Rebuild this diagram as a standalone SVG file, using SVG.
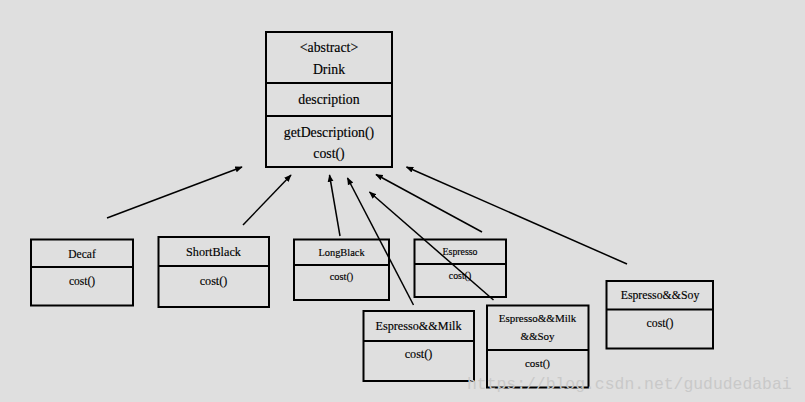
<svg xmlns="http://www.w3.org/2000/svg" width="805" height="402" viewBox="0 0 805 402">
<style>
.box{fill:none;stroke:#000;stroke-width:2}
.div{stroke:#000;stroke-width:2}
text.t{font-family:'Liberation Serif','Times New Roman',Times,serif;fill:#000;stroke:#000;stroke-width:0.15;text-anchor:middle}
.c{stroke:#000;stroke-width:1.5;fill:none;marker-end:url(#ah)}
.wm{font-family:'Liberation Mono','DejaVu Sans Mono',monospace;font-size:16.4px;fill:#c9c9c9}
</style>
<defs>
<marker id="ah" viewBox="0 0 10 10" refX="9" refY="5" markerWidth="5" markerHeight="5" orient="auto" markerUnits="strokeWidth">
<path d="M0,1 L10,5 L0,9 z" fill="#000"/>
</marker>
</defs>
<rect width="805" height="402" fill="#dfdfdf"/>
<g id="connectors">
<line class="c" x1="107" y1="218" x2="242" y2="167"/>
<line class="c" x1="243" y1="225" x2="291" y2="175"/>
<line class="c" x1="340" y1="236" x2="329.5" y2="175"/>
<line class="c" x1="482" y1="232" x2="376" y2="174.5"/>
<line class="c" x1="413.5" y1="305" x2="347.5" y2="178"/>
<line class="c" x1="493.5" y1="300" x2="369.5" y2="192"/>
<line class="c" x1="627" y1="264" x2="406.5" y2="167"/>
</g>
<g id="drink">
<rect class="box" x="266" y="32" width="126" height="135"/>
<line class="div" x1="266" y1="83" x2="392" y2="83" stroke-width="3"/>
<line class="div" x1="266" y1="116" x2="392" y2="116"/>
<text class="t" x="329" y="52" font-size="13.8">&lt;abstract&gt;</text>
<text class="t" x="329" y="74" font-size="13.8">Drink</text>
<text class="t" x="329" y="104" font-size="13.8">description</text>
<text class="t" x="329" y="137" font-size="13.8">getDescription()</text>
<text class="t" x="329" y="158" font-size="13.8">cost()</text>
</g>
<g id="decaf">
<rect class="box" x="31" y="239.5" width="102" height="66"/>
<line class="div" x1="31" y1="267" x2="133" y2="267"/>
<text class="t" x="82" y="257.5" font-size="11.5">Decaf</text>
<text class="t" x="82" y="284.5" font-size="11.5">cost()</text>
</g>
<g id="shortblack">
<rect class="box" x="158.5" y="237" width="110.5" height="70"/>
<line class="div" x1="158.5" y1="266" x2="269" y2="266"/>
<text class="t" x="213.5" y="255.5" font-size="12.2">ShortBlack</text>
<text class="t" x="213.5" y="284.5" font-size="12.2">cost()</text>
</g>
<g id="longblack">
<rect class="box" x="294" y="239.5" width="95" height="60.5"/>
<line class="div" x1="294" y1="265" x2="389" y2="265"/>
<text class="t" x="341.5" y="256" font-size="10.4">LongBlack</text>
<text class="t" x="341.5" y="280" font-size="10.4">cost()</text>
</g>
<g id="espresso">
<rect class="box" x="414.5" y="239.5" width="91.5" height="57.5"/>
<line class="div" x1="414.5" y1="264" x2="506" y2="264"/>
<text class="t" x="460" y="255" font-size="9.8">Espresso</text>
<text class="t" x="460" y="278.5" font-size="9.8">cost()</text>
</g>
<g id="espresso-milk">
<rect class="box" x="363.5" y="311" width="110.5" height="70"/>
<line class="div" x1="363.5" y1="341" x2="474" y2="341"/>
<text class="t" x="418.5" y="329.5" font-size="12.2">Espresso&amp;&amp;Milk</text>
<text class="t" x="418.5" y="358" font-size="12.2">cost()</text>
</g>
<g id="espresso-milk-soy">
<rect class="box" x="487" y="305.5" width="101.5" height="82"/>
<line class="div" x1="487" y1="350" x2="588.5" y2="350"/>
<text class="t" x="537.5" y="322" font-size="11">Espresso&amp;&amp;Milk</text>
<text class="t" x="537.5" y="340" font-size="11">&amp;&amp;Soy</text>
<text class="t" x="537.5" y="367" font-size="11">cost()</text>
</g>
<g id="espresso-soy">
<rect class="box" x="606.5" y="281" width="106.5" height="67.5"/>
<line class="div" x1="606.5" y1="309.5" x2="713" y2="309.5"/>
<text class="t" x="660" y="298.5" font-size="11.8">Espresso&amp;&amp;Soy</text>
<text class="t" x="660" y="327" font-size="11.8">cost()</text>
</g>
<text class="wm" x="467" y="389">https://blog.csdn.net/gududedabai</text>
</svg>
